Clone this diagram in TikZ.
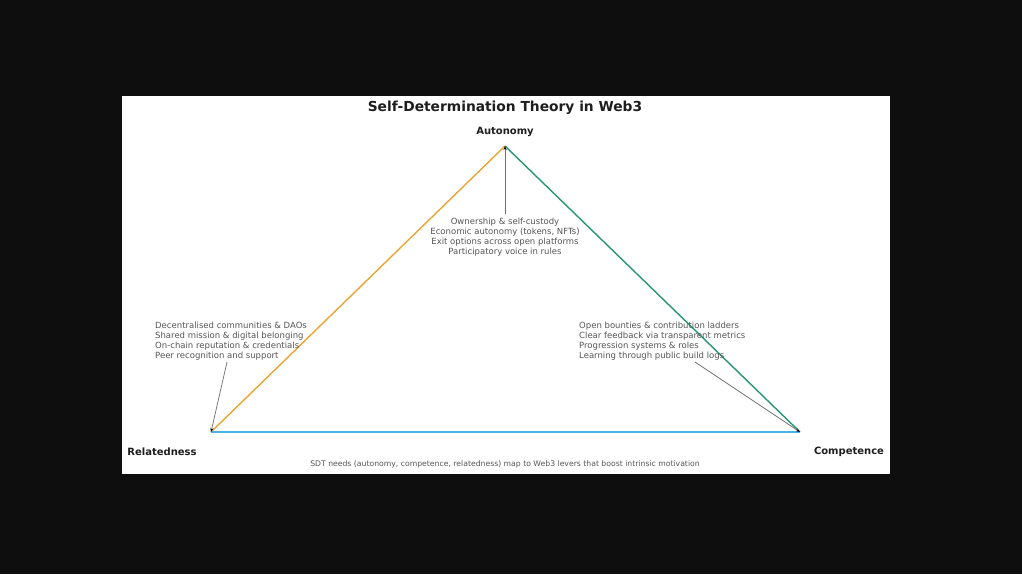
\documentclass[tikz,border=0pt]{standalone}
\usepackage{fontspec}
\setmainfont{DejaVu Sans}
\usetikzlibrary{arrows.meta}
\definecolor{bgdark}{RGB}{14,14,14}
\definecolor{orangeedge}{RGB}{236,165,50}
\definecolor{greenedge}{RGB}{40,150,115}
\definecolor{blueedge}{RGB}{70,180,230}
\definecolor{anntext}{RGB}{85,85,85}
\definecolor{annline}{RGB}{110,110,110}
\definecolor{titletext}{RGB}{30,30,30}
\tikzset{
  edge/.style={line width=1.4pt},
  ann/.style={font=\fontsize{8.5}{10}\selectfont, text=anntext, inner sep=0pt},
  vlabel/.style={font=\bfseries\fontsize{10}{12}\selectfont, text=titletext, inner sep=0pt},
  annarrow/.style={draw=annline, line width=0.7pt, -{Stealth[length=4pt,width=3pt,black]}},
}
\begin{document}
\begin{tikzpicture}[x=1pt,y=-1pt]
\fill[bgdark] (0,0) rectangle (1022,574);
\useasboundingbox (0,0) rectangle (1022,574);
\fill[white] (122,96) rectangle (890,474);

\node[font=\bfseries\fontsize{13.8}{16}\selectfont, text=titletext, inner sep=0pt] (title) at (505,108) {Self-Determination Theory in Web3};

\coordinate (A) at (505,146);
\coordinate (R) at (211,432);
\coordinate (C) at (800,432);

\draw[edge, orangeedge] (R) -- (A);
\draw[edge, greenedge] (A) -- (C);
\draw[edge, blueedge] (R) -- (C);

\node[vlabel] (Alab) at (505,132) {Autonomy};
\node[vlabel] (Rlab) at (162,452) {Relatedness};
\node[vlabel] (Clab) at (849,452) {Competence};

\node[ann, align=center, anchor=north] (Atext) at (505,218) {Ownership \& self-custody\\Economic autonomy (tokens, NFTs)\\Exit options across open platforms\\Participatory voice in rules};
\node[ann, align=left, anchor=north west] (Rtext) at (155,322) {Decentralised communities \& DAOs\\Shared mission \& digital belonging\\On-chain reputation \& credentials\\Peer recognition and support};
\node[ann, align=left, anchor=north west] (Ctext) at (579,322) {Open bounties \& contribution ladders\\Clear feedback via transparent metrics\\Progression systems \& roles\\Learning through public build logs};

\coordinate (As) at (505,214);
\coordinate (Rs) at (227,362);
\coordinate (Cs) at (695,362);
\draw[annarrow] (As) -- (A);
\draw[annarrow] (Rs) -- (R);
\draw[annarrow] (Cs) -- (C);

\node[font=\fontsize{7.7}{9}\selectfont, text=anntext, inner sep=0pt] (caption) at (505,464.5) {SDT needs (autonomy, competence, relatedness) map to Web3 levers that boost intrinsic motivation};
\end{tikzpicture}
\end{document}
